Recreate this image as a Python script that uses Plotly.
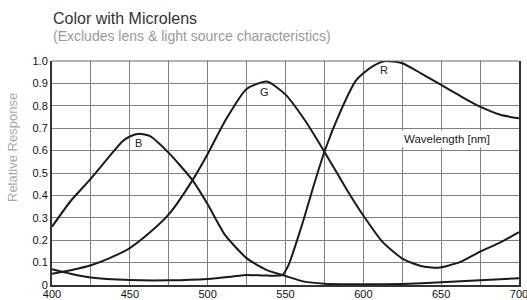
import plotly.graph_objects as go

# ---- data ----
b_wl = [400, 412, 425, 437, 445, 450, 456, 463, 475, 490, 500, 511, 525, 537, 550, 562, 575, 600, 625, 650, 675, 700]
b_val = [0.26, 0.375, 0.475, 0.575, 0.64, 0.663, 0.675, 0.665, 0.59, 0.47, 0.36, 0.225, 0.12, 0.07, 0.04, 0.015, 0.006, 0.003, 0.005, 0.012, 0.021, 0.03]

g_wl = [400, 412, 425, 437, 450, 463, 475, 490, 500, 511, 525, 538, 550, 563, 575, 589, 600, 612, 625, 637, 648, 662, 675, 688, 700]
g_val = [0.05, 0.066, 0.088, 0.12, 0.165, 0.235, 0.315, 0.465, 0.585, 0.73, 0.875, 0.908, 0.85, 0.73, 0.595, 0.43, 0.31, 0.195, 0.118, 0.085, 0.077, 0.102, 0.149, 0.19, 0.236]

r_wl = [400, 412, 425, 450, 475, 500, 515, 525, 538, 548, 552, 557, 562, 567.5, 575, 585, 595, 600, 607, 614, 625, 637, 650, 662, 675, 688, 700]
r_val = [0.07, 0.05, 0.033, 0.022, 0.021, 0.027, 0.037, 0.045, 0.042, 0.045, 0.09, 0.19, 0.3, 0.43, 0.595, 0.77, 0.91, 0.945, 0.98, 1.0, 0.99, 0.945, 0.893, 0.845, 0.796, 0.76, 0.744]

curve_names = ["B", "G", "R"]
label_pos_x = [455.7, 536.7, 613.3]
label_pos_y = [0.632, 0.863, 0.96]

x_tick_vals = [400, 425, 450, 475, 500, 525, 550, 575, 600, 625, 650, 675, 700]
x_tick_text = ["400", "", "450", "", "500", "", "550", "", "600", "", "650", "", "700"]
y_tick_vals = [0, 0.1, 0.2, 0.3, 0.4, 0.5, 0.6, 0.7, 0.8, 0.9, 1.0]
y_tick_text = ["0", "0.1", "0.2", "0.3", "0.4", "0.5", "0.6", "0.7", "0.8", "0.9", "1.0"]

title_text = "Color with Microlens"
subtitle_text = "(Excludes lens & light source characteristics)"
y_title = "Relative Response"
x_title = "Wavelength [nm]"

FONT = "Liberation Sans, Arial, sans-serif"

fig = go.Figure()
for wl, val, nm in [(b_wl, b_val, "B"), (g_wl, g_val, "G"), (r_wl, r_val, "R")]:
    fig.add_trace(go.Scatter(x=wl, y=val, mode="lines", name=nm,
                             line=dict(color="#1a1a1a", width=2, shape="spline", smoothing=0.6),
                             showlegend=False, hoverinfo="skip"))

annotations = []
for nm, lx, ly in zip(curve_names, label_pos_x, label_pos_y):
    annotations.append(dict(x=lx, y=ly, xref="x", yref="y", text=nm, showarrow=False,
                            font=dict(family=FONT, size=11, color="#222")))
annotations.append(dict(x=653.8, y=0.65, xref="x", yref="y", text=x_title, showarrow=False,
                        bgcolor="white", borderpad=2,
                        font=dict(family=FONT, size=11.5, color="#222")))
annotations.append(dict(x=0.0, y=1.0, xref="paper", yref="paper", xanchor="left", yanchor="middle",
                        yshift=43, xshift=-1, text=title_text, showarrow=False,
                        font=dict(family=FONT, size=16, color="#333")))
annotations.append(dict(x=0.0, y=1.0, xref="paper", yref="paper", xanchor="left", yanchor="middle",
                        yshift=25, xshift=-1, text=subtitle_text, showarrow=False,
                        font=dict(family=FONT, size=14, color="#9a9a9a")))
annotations.append(dict(x=(12 - 52) / 467, y=(285 - 148) / 224, xref="paper", yref="paper",
                        xanchor="center", yanchor="middle", text=y_title, showarrow=False,
                        textangle=-90, font=dict(family=FONT, size=13, color="#aaaaaa")))

fig.update_layout(
    width=527, height=300,
    margin=dict(l=52, r=8, t=61, b=15),
    paper_bgcolor="white", plot_bgcolor="white",
    annotations=annotations,
    xaxis=dict(range=[400, 700], tickvals=x_tick_vals, ticktext=x_tick_text,
               showgrid=True, gridcolor="#808080", gridwidth=1,
               showline=True, linecolor="#333", linewidth=2, mirror=False,
               ticks="", zeroline=False, automargin=False,
               ticklabeloverflow="allow", ticklabelstandoff=-2,
               tickfont=dict(family=FONT, size=11, color="#111")),
    yaxis=dict(range=[0, 1.0], tickvals=y_tick_vals, ticktext=y_tick_text,
               showgrid=True, gridcolor="#808080", gridwidth=1,
               showline=True, linecolor="#333", linewidth=2, mirror=True,
               ticks="", zeroline=False, automargin=False,
               tickfont=dict(family=FONT, size=11, color="#111")),
    shapes=[dict(type="line", xref="paper", yref="paper", x0=0, x1=1, y0=1, y1=1,
                 line=dict(color="#666", width=1))],
)

fig.write_html("out.html", config={"displayModeBar": False},
               post_script="document.body.style.margin='0';document.body.style.padding='0';")
